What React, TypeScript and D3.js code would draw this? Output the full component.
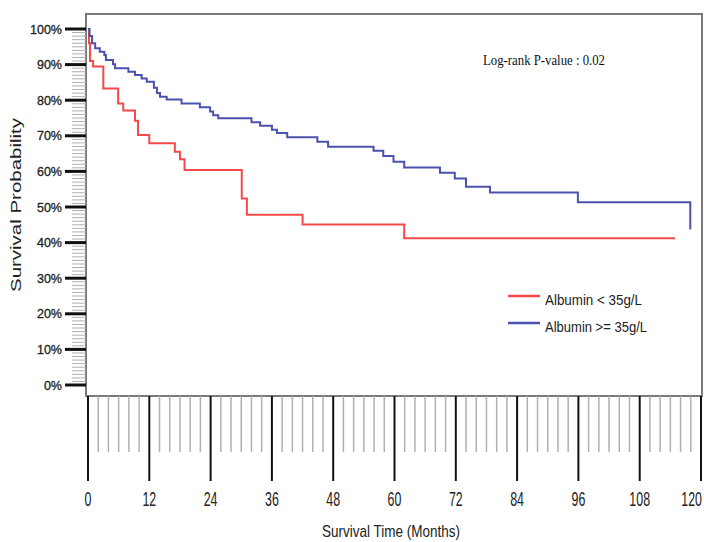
import React, { useEffect, useRef } from "react";
import * as d3 from "d3";

// Kaplan-Meier steps (time in months, survival in %)
const lowTimes = [0, 0.2, 0.4, 1.0, 3.0, 5.9, 6.9, 9.2, 9.8, 12.0, 17.0, 18.0, 18.9, 30.1, 31.1, 42.0, 61.9, 114.9];
const lowSurv = [100, 96, 91, 89.5, 83.3, 79.1, 77.1, 74.2, 70.2, 67.9, 65.5, 63.4, 60.4, 52.4, 47.8, 45.1, 41.2, 41.2];

const highTimes = [0, 0.3, 0.8, 1.4, 2.3, 3.2, 3.5, 4.9, 5.3, 7.9, 9.2, 10.5, 11.5, 12.9, 13.5, 14.1, 15.4, 18.3, 21.9, 23.9, 24.5, 25.5, 32.0, 33.7, 36.0, 37.0, 39.0, 44.9, 47.0, 55.9, 57.8, 59.8, 61.9, 68.9, 71.8, 74.0, 78.7, 95.9, 117.9];
const highSurv = [100, 98, 96, 94.6, 93.6, 92.7, 91.3, 90.1, 89.0, 88.0, 87.1, 86.1, 85.2, 83.5, 82.0, 81.0, 80.2, 79.1, 78.0, 76.8, 75.8, 74.9, 73.8, 72.8, 71.7, 70.8, 69.6, 68.3, 66.9, 65.8, 64.3, 62.7, 61.1, 59.6, 58.0, 55.7, 54.1, 51.3, 43.7];

const xTicks = [0, 12, 24, 36, 48, 60, 72, 84, 96, 108, 120];
const yTicks = [0, 10, 20, 30, 40, 50, 60, 70, 80, 90, 100];

const seriesNames = ["Albumin < 35g/L", "Albumin >= 35g/L"];
const seriesColors = ["#f24a4a", "#4b52ad"];

const App = () => {
  const ref = useRef<SVGSVGElement>(null);

  useEffect(() => {
    const svg = d3.select(ref.current);
    svg.selectAll("*").remove();

    const x = d3.scaleLinear().domain([0, 120]).range([88, 701]);
    const y = d3.scaleLinear().domain([0, 100]).range([385, 29]);
    const plotBottom = 396;

    // frame
    svg.append("rect")
      .attr("x", 86).attr("y", 14)
      .attr("width", 616).attr("height", plotBottom - 14)
      .attr("fill", "none").attr("stroke", "#7a7a7a").attr("stroke-width", 2);

    // y minor ticks every 1%
    const yMinor = d3.range(0, 101).filter(v => v % 10 !== 0);
    svg.append("g").selectAll("line").data(yMinor).join("line")
      .attr("x1", 72).attr("x2", 86)
      .attr("y1", d => y(d)).attr("y2", d => y(d))
      .attr("stroke", "#b0b0b0").attr("stroke-width", 1);

    svg.append("g").selectAll("line").data(yTicks).join("line")
      .attr("x1", 65).attr("x2", 86)
      .attr("y1", d => y(d)).attr("y2", d => y(d))
      .attr("stroke", "#111").attr("stroke-width", 3);

    svg.append("g").selectAll("text").data(yTicks).join("text")
      .attr("x", 62).attr("y", d => y(d) + 4.5)
      .attr("text-anchor", "end")
      .attr("font-family", "Liberation Sans, Arial, sans-serif")
      .attr("font-size", 12.5)
      .attr("stroke", "#222").attr("stroke-width", 0.3)
      .attr("fill", "#222")
      .text(d => d + "%");

    // x minor ticks every 2 months
    const xMinor = d3.range(0, 121, 2).filter(v => v % 12 !== 0);
    svg.append("g").selectAll("line").data(xMinor).join("line")
      .attr("x1", d => x(d)).attr("x2", d => x(d))
      .attr("y1", plotBottom).attr("y2", 452)
      .attr("stroke", "#b0b0b0").attr("stroke-width", 1.5);

    svg.append("g").selectAll("line").data(xTicks).join("line")
      .attr("x1", d => x(d)).attr("x2", d => x(d))
      .attr("y1", plotBottom).attr("y2", 481)
      .attr("stroke", "#111").attr("stroke-width", 2);

    // tall, narrow tick labels; the last one is end-anchored to stay inside
    svg.append("g").selectAll("text").data(xTicks).join("text")
      .attr("transform", d => `translate(${d === 120 ? 702 : x(d)},506) scale(0.62,1)`)
      .attr("text-anchor", d => (d === 120 ? "end" : "middle"))
      .attr("font-family", "Liberation Sans, Arial, sans-serif")
      .attr("font-size", 20)
      .attr("fill", "#222")
      .text(d => d);

    // axis titles
    svg.append("text")
      .attr("x", 391).attr("y", 537)
      .attr("text-anchor", "middle")
      .attr("font-family", "Liberation Sans, Arial, sans-serif")
      .attr("font-size", 17)
      .attr("textLength", 138).attr("lengthAdjust", "spacingAndGlyphs")
      .attr("fill", "#222")
      .text("Survival Time (Months)");

    svg.append("text")
      .attr("transform", "translate(21,205) rotate(-90)")
      .attr("text-anchor", "middle")
      .attr("font-family", "Liberation Sans, Arial, sans-serif")
      .attr("font-size", 14)
      .attr("textLength", 174).attr("lengthAdjust", "spacingAndGlyphs")
      .attr("fill", "#222")
      .text("Survival Probability");

    // survival curves
    const line = d3.line<[number, number]>()
      .x(d => x(d[0])).y(d => y(d[1]))
      .curve(d3.curveStepAfter);

    const series = [
      lowTimes.map((t, i) => [t, lowSurv[i]] as [number, number]),
      highTimes.map((t, i) => [t, highSurv[i]] as [number, number]),
    ];

    svg.append("g").selectAll("path").data(series).join("path")
      .attr("d", d => line(d))
      .attr("fill", "none")
      .attr("stroke", (d, i) => seriesColors[i])
      .attr("stroke-width", 2);

    // p-value
    svg.append("text")
      .attr("x", 483).attr("y", 65)
      .attr("font-family", "Liberation Serif, Times New Roman, serif")
      .attr("font-size", 14)
      .attr("textLength", 122).attr("lengthAdjust", "spacingAndGlyphs")
      .attr("fill", "#111")
      .text("Log-rank P-value : 0.02");

    // legend
    const legend = svg.append("g");
    const legendY = [296, 323];
    const legendBase = [305, 332];
    const legendLen = [97, 102];
    seriesNames.forEach((name, i) => {
      legend.append("line")
        .attr("x1", 508).attr("x2", 540)
        .attr("y1", legendY[i]).attr("y2", legendY[i])
        .attr("stroke", seriesColors[i]).attr("stroke-width", 2.5);
      legend.append("text")
        .attr("x", 545).attr("y", legendBase[i])
        .attr("font-family", "Liberation Sans, Arial, sans-serif")
        .attr("font-size", 15)
        .attr("textLength", legendLen[i]).attr("lengthAdjust", "spacingAndGlyphs")
        .attr("fill", "#222")
        .text(name);
    });
  }, []);

  return (
    <svg
      ref={ref}
      width={704}
      height={542}
      style={{ position: "absolute", left: 0, top: 0, background: "#fff" }}
    />
  );
};

export default App;
